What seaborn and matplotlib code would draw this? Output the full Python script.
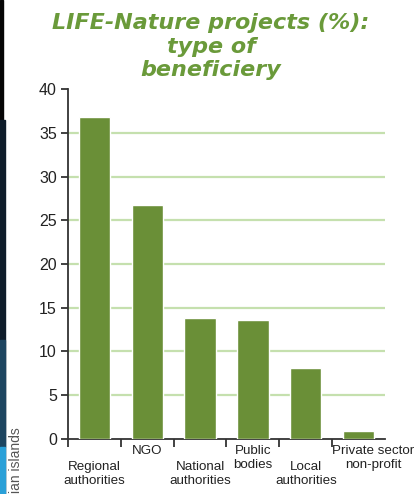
import matplotlib
matplotlib.use("Agg")
import matplotlib.pyplot as plt
import matplotlib.transforms as mtransforms
from matplotlib.patches import Rectangle
import seaborn as sns
import pandas as pd

categories = ["Regional\nauthorities", "NGO", "National\nauthorities",
              "Public\nbodies", "Local\nauthorities", "Private sector\nnon-profit"]
values = [36.8, 26.8, 13.8, 13.6, 8.1, 0.9]
label_row = [1, 0, 1, 0, 1, 0]  # 0 = upper row, 1 = lower row
yticks = [0, 5, 10, 15, 20, 25, 30, 35, 40]
title = "LIFE-Nature projects (%):\ntype of\nbeneficiery"

df = pd.DataFrame({"cat": categories, "val": values})

sns.set_style("white")
plt.rcParams["font.family"] = ["Liberation Sans", "DejaVu Sans"]

W, H = 416, 494
fig = plt.figure(figsize=(W / 100, H / 100), dpi=100)
ax = fig.add_axes([68 / W, 1 - 438.7 / H, (385 - 68) / W, (438.7 - 89.3) / H])

bar_color = "#6a8f37"
sns.barplot(data=df, x="cat", y="val", color=bar_color, saturation=1,
            width=0.59, ax=ax, zorder=3)

ax.set_xlim(-0.5, 5.5)
ax.set_ylim(0, 40)
ax.set_xlabel("")
ax.set_ylabel("")

# gridlines
for v in yticks[1:-1]:
    ax.axhline(v, color="#c5e0ae", lw=1.6, zorder=1)

for s in ["top", "right"]:
    ax.spines[s].set_visible(False)
ax.spines["left"].set_color("#333333")
ax.spines["bottom"].set_color("#333333")
ax.spines["left"].set_linewidth(1.3)
ax.spines["bottom"].set_linewidth(1.3)

ax.set_yticks(yticks)
ax.set_yticklabels([str(t) for t in yticks], fontsize=11.5, color="#222222")
ax.tick_params(axis="y", direction="out", length=5, width=1.3, color="#333333", pad=3, left=True)

ax.set_xticks([i - 0.5 for i in range(len(categories))])
ax.set_xticklabels([])
ax.tick_params(axis="x", direction="out", length=6, width=1.3, color="#333333", bottom=True)

trans = mtransforms.blended_transform_factory(ax.transData, ax.transAxes)
for i, (lab, row) in enumerate(zip(categories, label_row)):
    y_px = 445 if row == 0 else 461
    y_ax = (438.7 - y_px) / (438.7 - 89.3)
    t = trans
    if i == len(categories) - 1:
        t = trans + mtransforms.ScaledTranslation(15 / 100, 0, fig.dpi_scale_trans)
    ax.text(i, y_ax, lab, transform=t, ha="center", va="top", fontsize=9.6,
            color="#222222", linespacing=1.2, clip_on=False)

fig.text(0.507, 1 - 13 / H, title, ha="center", va="top", fontsize=16,
         fontweight="bold", fontstyle="italic", color="#6a9a3a",
         family=["DejaVu Sans"], linespacing=1.22)

# left photo strip
fig.patches.append(Rectangle((0, 0), 3 / W, 1, transform=fig.transFigure,
                             color="#050505", zorder=0))
fig.patches.append(Rectangle((0, 0), 4.5 / W, 1 - 120 / H, transform=fig.transFigure,
                             color="#0e1c2a", zorder=0))
fig.patches.append(Rectangle((0, 1 - 447 / H), 4.5 / W, (447 - 340) / H, transform=fig.transFigure,
                             color="#1d4560", zorder=0))
fig.patches.append(Rectangle((0, 0), 4.5 / W, 1 - 447 / H, transform=fig.transFigure,
                             color="#2aa0d8", zorder=0))
fig.text(16 / W, 1 / H, "ian islands", rotation=90, ha="center", va="bottom",
         fontsize=10, color="#555555", family=["Liberation Sans", "DejaVu Sans"])

fig.savefig("out.png", dpi=100)
